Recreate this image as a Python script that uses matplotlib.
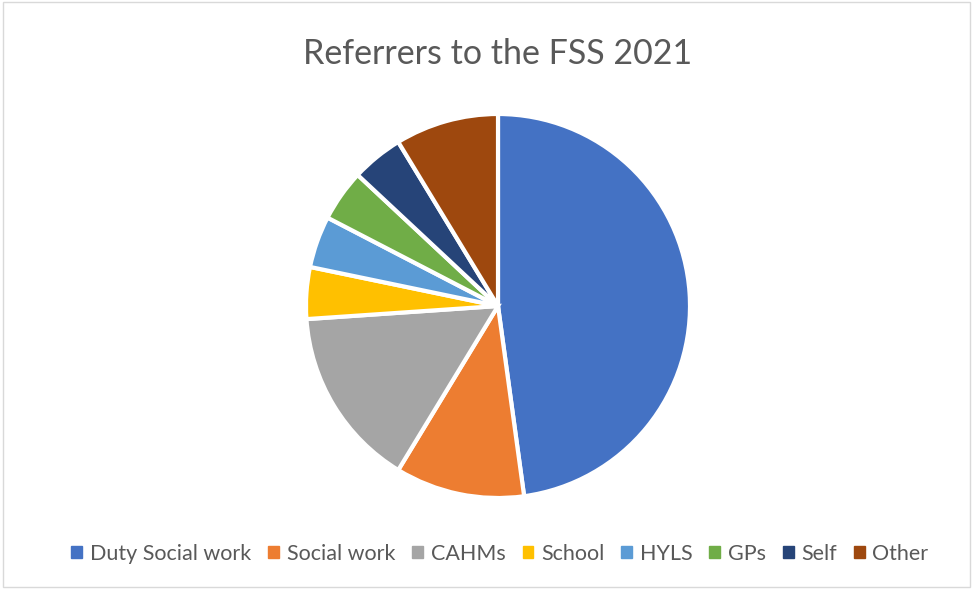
import matplotlib.pyplot as plt
from matplotlib.patches import Rectangle

plt.rcParams['font.family'] = ['Lato', 'DejaVu Sans']

# Referral counts
categories = ['Duty Social work', 'Social work', 'CAHMs', 'School', 'HYLS', 'GPs', 'Self', 'Other']
counts = [22, 5, 7, 2, 2, 2, 2, 4]
colors = ['#4472C4', '#ED7D31', '#A5A5A5', '#FFC000', '#5B9BD5', '#70AD47', '#264478', '#9E480E']

fig = plt.figure(figsize=(9.73, 5.89), dpi=100)
fig.patches.append(Rectangle((0.003, 0.003), 0.994, 0.994, transform=fig.transFigure,
                             fill=False, edgecolor='#D9D9D9', linewidth=1))

# pie centre ~ (498, 306) px, radius ~ 192 px
ax = fig.add_axes([(498 - 192) / 973, 1 - (306 + 192) / 589, 384 / 973, 384 / 589])
ax.pie(counts, colors=colors, startangle=90, counterclock=False,
       wedgeprops=dict(edgecolor='white', linewidth=3))
ax.set_xlim(-1.0, 1.0)
ax.set_ylim(-1.0, 1.0)
ax.set_aspect('equal')

fig.text(498 / 973, 1 - 54 / 589, 'Referrers to the FSS 2021', ha='center', va='center',
         fontsize=24.5, color='#595959')

handles = [plt.Rectangle((0, 0), 1, 1, color=c) for c in colors]
fig.legend(handles, categories, loc='center', bbox_to_anchor=(500 / 973, 1 - 554 / 589),
           ncol=len(categories), frameon=False, fontsize=15.5, labelcolor='#595959',
           handlelength=0.5, handleheight=0.5, handletextpad=0.35, columnspacing=0.8)

fig.savefig('out.png', dpi=100)
